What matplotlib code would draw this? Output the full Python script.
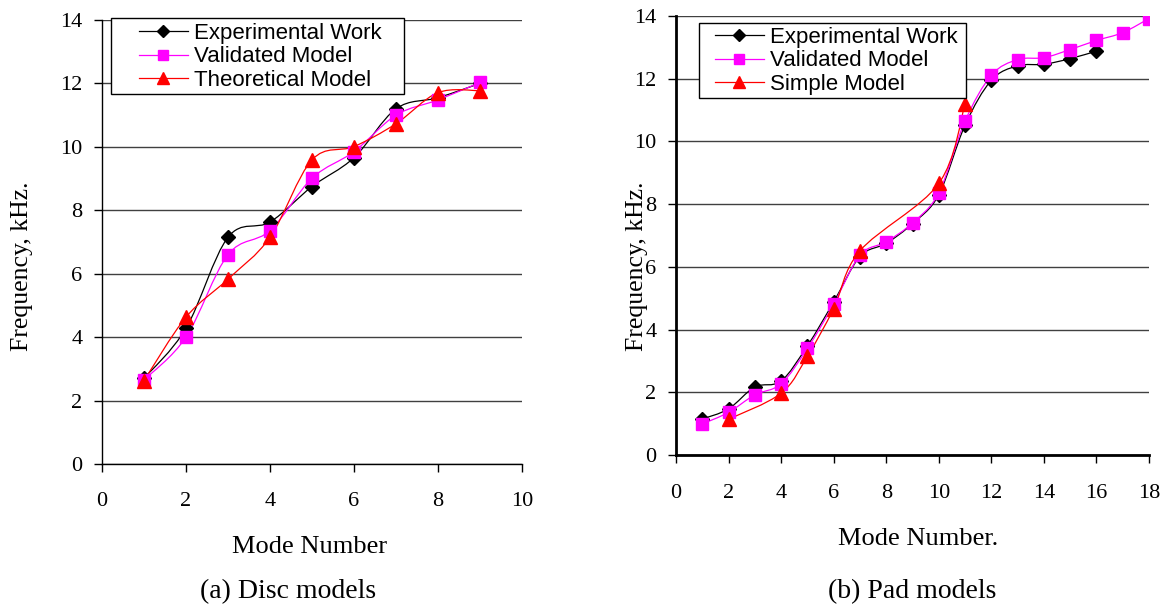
import numpy as np
import matplotlib.pyplot as plt
from matplotlib.path import Path
from matplotlib.patches import PathPatch, Rectangle
from matplotlib.lines import Line2D

# (a) Disc models
disc_modes = [1, 2, 3, 4, 5, 6, 7, 8, 9]
disc_exp = [2.70, 4.28, 7.15, 7.63, 8.75, 9.66, 11.20, 11.55, 12.00]
disc_val = [2.65, 4.00, 6.60, 7.36, 9.01, 9.85, 11.00, 11.48, 12.03]
disc_theo = [2.63, 4.63, 5.83, 7.15, 9.59, 10.01, 10.73, 11.71, 11.77]

# (b) Pad models
pad_exp_modes = list(range(1, 17))
pad_exp = [1.15, 1.47, 2.17, 2.36, 3.48, 4.88, 6.33, 6.75, 7.38, 8.30,
           10.52, 11.95, 12.41, 12.46, 12.64, 12.88]
pad_val_modes = list(range(1, 19))
pad_val = [0.99, 1.36, 1.92, 2.27, 3.40, 4.81, 6.37, 6.80, 7.40, 8.36,
           10.65, 12.11, 12.61, 12.67, 12.93, 13.22, 13.47, 13.92]
pad_sim_modes = [2, 4, 5, 6, 7, 10, 11]
pad_sim = [1.14, 1.97, 3.15, 4.67, 6.51, 8.66, 11.19]

serif = 'Liberation Serif'
sans = 'Liberation Sans'


def smooth_line(ax, x, y, color):
    # excel style smoothed line (catmull-rom as cubic bezier)
    x = np.asarray(x, float)
    y = np.asarray(y, float)
    pts = np.column_stack([x, y])
    verts = [pts[0]]
    codes = [Path.MOVETO]
    n = len(pts)
    for i in range(n - 1):
        p0 = pts[i - 1] if i > 0 else pts[i]
        p1 = pts[i]
        p2 = pts[i + 1]
        p3 = pts[i + 2] if i + 2 < n else pts[i + 1]
        c1 = p1 + (p2 - p0) / 6.0
        c2 = p2 - (p3 - p1) / 6.0
        verts += [c1, c2, p2]
        codes += [Path.CURVE4] * 3
    ax.add_patch(PathPatch(Path(verts, codes), fill=False, edgecolor=color,
                           lw=0.9, zorder=3))


styles = {
    'exp': dict(color='black', marker='D', ms=7),
    'val': dict(color='#ff00ff', marker='s', ms=9),
    'red': dict(color='#ff0000', marker='^', ms=9.5),
}


def series(ax, x, y, key):
    st = styles[key]
    smooth_line(ax, x, y, st['color'])
    ax.plot(x, y, linestyle='none', marker=st['marker'], ms=st['ms'],
            color=st['color'], mec=st['color'], zorder=4)


def handle(key):
    st = styles[key]
    return Line2D([], [], color=st['color'], lw=0.9, marker=st['marker'],
                  ms=st['ms'] * 0.85, mec=st['color'])


def style_axes(ax, xmax, xstep, spine_w, xpad):
    ax.set_xlim(0, xmax)
    ax.set_ylim(0, 14)
    ax.set_xticks(np.arange(0, xmax + 1, xstep))
    ax.set_yticks(np.arange(0, 15, 2))
    ax.yaxis.grid(True, color='#404040', lw=1.0)
    ax.set_axisbelow(True)
    for s in ['top', 'right']:
        ax.spines[s].set_visible(False)
    for s in ['left', 'bottom']:
        ax.spines[s].set_linewidth(spine_w)
    ax.tick_params(axis='x', direction='out', length=6, width=1, pad=xpad)
    ax.tick_params(axis='y', direction='out', length=6, width=1, pad=8)
    for lab in ax.get_xticklabels() + ax.get_yticklabels():
        lab.set_fontfamily(serif)
        lab.set_fontsize(16)


fig = plt.figure(figsize=(11.65, 6.10), dpi=100)
W, H = 1165.0, 610.0

ax1 = fig.add_axes([102 / W, 1 - 464 / H, 420 / W, 444 / H])
ax2 = fig.add_axes([676 / W, 1 - 455 / H, 473 / W, 439 / H])

series(ax1, disc_modes, disc_exp, 'exp')
series(ax1, disc_modes, disc_val, 'val')
series(ax1, disc_modes, disc_theo, 'red')
style_axes(ax1, 10, 2, 1.0, 14)

series(ax2, pad_exp_modes, pad_exp, 'exp')
series(ax2, pad_val_modes, pad_val, 'val')
series(ax2, pad_sim_modes, pad_sim, 'red')
style_axes(ax2, 18, 2, 2.0, 15)

# legends with a wider frame drawn by hand
for ax, labels, box, anchor in [
        (ax1, ['Experimental Work', 'Validated Model', 'Theoretical Model'],
         (111, 18, 293, 76), (139, 23)),
        (ax2, ['Experimental Work', 'Validated Model', 'Simple Model'],
         (699, 23, 267, 75), (715, 27))]:
    bx, by, bw, bh = box
    ax.add_patch(Rectangle((bx / W, 1 - (by + bh) / H), bw / W, bh / H,
                           transform=fig.transFigure, facecolor='white',
                           edgecolor='black', lw=1.0, clip_on=False, zorder=4.5))
    leg = ax.legend([handle('exp'), handle('val'), handle('red')], labels,
                    loc='upper left', bbox_to_anchor=(anchor[0] / W, 1 - anchor[1] / H),
                    bbox_transform=fig.transFigure, frameon=False,
                    borderpad=0, borderaxespad=0, handlelength=2.2,
                    handletextpad=0.27, labelspacing=0.11,
                    prop={'family': sans, 'size': 16})
    leg.set_zorder(5)

fig.text(22 / W, 1 - 266 / H, 'Frequency, kHz.', rotation=90, ha='center',
         va='center', family=serif, fontsize=18.5)
fig.text(637 / W, 1 - 266 / H, 'Frequency, kHz.', rotation=90, ha='center',
         va='center', family=serif, fontsize=18.5)
fig.text(310 / W, 1 - 547 / H, 'Mode Number', ha='center', va='center',
         family=serif, fontsize=19)
fig.text(918 / W, 1 - 539 / H, 'Mode Number.', ha='center', va='center',
         family=serif, fontsize=19)
fig.text(288 / W, 1 - 592 / H, '(a) Disc models', ha='center', va='center',
         family=serif, fontsize=20)
fig.text(912 / W, 1 - 592 / H, '(b) Pad models', ha='center', va='center',
         family=serif, fontsize=20)

fig.savefig('out.png', dpi=100)
